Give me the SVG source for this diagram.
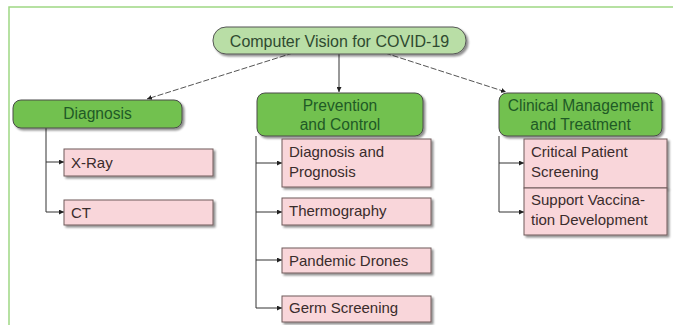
<svg xmlns="http://www.w3.org/2000/svg" width="673" height="325" viewBox="0 0 673 325">
<defs>
<marker id="ah" viewBox="0 0 6 6" refX="6" refY="3" markerWidth="5" markerHeight="5" orient="auto" markerUnits="userSpaceOnUse">
<path d="M0,0 L6,3 L0,6 z" fill="#222"/>
</marker>
<filter id="sh" x="-10%" y="-20%" width="130%" height="150%">
<feGaussianBlur in="SourceAlpha" stdDeviation="1"/>
<feOffset dx="2" dy="2" result="o"/>
<feComponentTransfer><feFuncA type="linear" slope="0.45"/></feComponentTransfer>
<feMerge><feMergeNode/><feMergeNode in="SourceGraphic"/></feMerge>
</filter>
</defs>
<style>
text{font-family:"Liberation Sans","DejaVu Sans",sans-serif;font-size:15px}
.root{fill:#b9dea6;stroke:#555;stroke-width:1}
.cat{fill:#72c14f;stroke:#4a4a4a;stroke-width:1}
.leaf{fill:#f9d6da;stroke:#6e5a5a;stroke-width:1}
.ct{fill:#1f5a26;text-anchor:middle;font-size:15.6px}
.rt{fill:#2f4a30;text-anchor:middle;font-size:16px}
.lt{fill:#3a2c2c}
.dash{stroke:#555;stroke-width:1;fill:none;stroke-dasharray:6 2}
.solid{stroke:#333;stroke-width:1;fill:none}
</style>
<rect width="673" height="325" fill="#fff"/>
<path d="M9,325 L9,7 L673,7" fill="none" stroke="#9fd884" stroke-width="1.5"/>
<g id="connectors">
<line class="dash" x1="293" y1="53" x2="147" y2="99" marker-end="url(#ah)"/>
<line class="solid" x1="339" y1="54" x2="339" y2="92" marker-end="url(#ah)"/>
<line class="dash" x1="385" y1="53" x2="506" y2="92" marker-end="url(#ah)"/>
<path class="solid" d="M46,128 V212"/>
<path class="solid" d="M46,162 H64" marker-end="url(#ah)"/>
<path class="solid" d="M46,212 H64" marker-end="url(#ah)"/>
<path class="solid" d="M256,136 V308"/>
<path class="solid" d="M256,163 H282" marker-end="url(#ah)"/>
<path class="solid" d="M256,212 H282" marker-end="url(#ah)"/>
<path class="solid" d="M256,260 H282" marker-end="url(#ah)"/>
<path class="solid" d="M256,308 H282" marker-end="url(#ah)"/>
<path class="solid" d="M499,136 V212"/>
<path class="solid" d="M499,163 H524" marker-end="url(#ah)"/>
<path class="solid" d="M499,212 H524" marker-end="url(#ah)"/>
</g>
<g id="root">
<rect class="root" x="213" y="27" width="253" height="27" rx="13" ry="13" filter="url(#sh)"/>
<text class="rt" x="339.5" y="46.5">Computer Vision for COVID-19</text>
</g>
<g id="diagnosis">
<rect class="cat" x="13" y="100" width="169" height="28" rx="8" filter="url(#sh)"/>
<text class="ct" x="97.5" y="119">Diagnosis</text>
</g>
<g id="prevention">
<rect class="cat" x="257" y="93" width="166" height="43" rx="8" filter="url(#sh)"/>
<text class="ct" x="340" y="110.5">Prevention</text>
<text class="ct" x="340" y="129.5">and Control</text>
</g>
<g id="clinical">
<rect class="cat" x="499" y="93" width="163" height="43" rx="8" filter="url(#sh)"/>
<text class="ct" x="580.5" y="110.5">Clinical Management</text>
<text class="ct" x="580.5" y="129.5">and Treatment</text>
</g>
<g id="xray">
<rect class="leaf" x="64" y="149" width="149" height="27" filter="url(#sh)"/>
<text class="lt" x="71" y="168">X-Ray</text>
</g>
<g id="ct">
<rect class="leaf" x="64" y="200" width="149" height="25" filter="url(#sh)"/>
<text class="lt" x="71" y="218">CT</text>
</g>
<g id="diagprog">
<rect class="leaf" x="282" y="139" width="149" height="48" filter="url(#sh)"/>
<text class="lt" x="289" y="157">Diagnosis and</text>
<text class="lt" x="289" y="177">Prognosis</text>
</g>
<g id="thermo">
<rect class="leaf" x="282" y="198" width="149" height="27" filter="url(#sh)"/>
<text class="lt" x="289" y="216">Thermography</text>
</g>
<g id="drones">
<rect class="leaf" x="282" y="248" width="149" height="25" filter="url(#sh)"/>
<text class="lt" x="289" y="266">Pandemic Drones</text>
</g>
<g id="germ">
<rect class="leaf" x="282" y="296" width="149" height="26" filter="url(#sh)"/>
<text class="lt" x="289" y="313">Germ Screening</text>
</g>
<g id="critical">
<rect class="leaf" x="524" y="139" width="143" height="49" filter="url(#sh)"/>
<text class="lt" x="531" y="157">Critical Patient</text>
<text class="lt" x="531" y="177">Screening</text>
</g>
<g id="vaccine">
<rect class="leaf" x="524" y="188" width="143" height="47" filter="url(#sh)"/>
<text class="lt" x="531" y="205">Support Vaccina-</text>
<text class="lt" x="531" y="225">tion Development</text>
</g>
</svg>
